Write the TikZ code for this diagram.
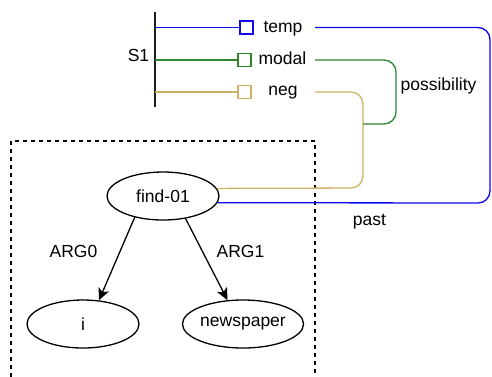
\documentclass[tikz,border=0pt]{standalone}
\usepackage{fontspec}
\setmainfont{Liberation Sans}
\usetikzlibrary{shapes.geometric,arrows.meta}
\definecolor{lblue}{RGB}{10,10,235}
\definecolor{lgreen}{RGB}{45,135,45}
\definecolor{ltan}{RGB}{205,178,100}
\definecolor{lbar}{RGB}{30,30,30}
\tikzset{
  lbl/.style={font=\fontsize{17.5}{20}\selectfont, inner sep=0pt, text=black, anchor=base},
  concept/.style={ellipse, draw, line width=1.3pt, minimum width=112pt, minimum height=48pt, inner sep=0pt, font=\fontsize{17.5}{20}\selectfont},
  sq/.style={rectangle, draw, fill=white, line width=1.8pt, minimum size=13pt, inner sep=0pt},
  conn/.style={line width=1.3pt, rounded corners=12pt},
  argarrow/.style={line width=1.3pt, -{Stealth[length=12pt,width=11pt,inset=3pt]}},
}
\begin{document}
\begin{tikzpicture}[x=1pt,y=-1pt]
\clip (0,0) rectangle (492,376);
\fill[white] (0,0) rectangle (492,376);

% dashed frame
\draw[line width=1.3pt, dash pattern=on 4pt off 4pt] (11,385) -- (11,141) -- (315,141) -- (315,385);

% bar
\coordinate (bartop) at (155,12);
\coordinate (barbot) at (155,107);
\draw[lbar, line width=2.6pt] (bartop) -- (barbot);
\node[lbl] (s1) at (138.5,61) {S1};

\coordinate (bt) at (155,27.5);
\coordinate (bm) at (155,60);
\coordinate (bn) at (155,92);

\node[sq, draw=lblue] (tempbox) at (246.5,27.5) {};
\node[sq, draw=lgreen] (modalbox) at (244.5,60) {};
\node[sq, draw=ltan] (negbox) at (244.5,92) {};

\draw[lblue, line width=1.3pt] (bt) -- (tempbox.west);
\draw[lgreen, line width=1.3pt] (bm) -- (modalbox.west);
\draw[ltan, line width=1.3pt] (bn) -- (negbox.west);

\node[lbl] (temp) at (283,32.5) {temp};
\node[lbl] (modal) at (282.5,64.5) {modal};
\node[lbl] (neg) at (283,95.5) {neg};

\coordinate (tempout) at (315,27.5);
\coordinate (modalout) at (315,60);
\coordinate (negout) at (315,92);

% concepts
\node[concept] (find) at (163,196) {find-01};
\node[concept] (i) at (83,324) {i};
\node[concept] (news) at (243,324) {newspaper};

\draw[argarrow] (find.217.9) -- (i.56.3);
\draw[argarrow] (find.-45) -- (news.123.7);
\node[lbl] (arg0) at (73.5,257) {ARG0};
\node[lbl] (arg1) at (240.5,257) {ARG1};

% connectors
\coordinate (b1) at (490,27.5);
\coordinate (b2) at (490,203);
\draw[conn, lblue] (tempout) -- (b1) -- (b2) -- (find.-7.4);

\coordinate (t1) at (363,92);
\coordinate (t2) at (363,188);
\draw[conn, ltan] (negout) -- (t1) -- (t2) -- (find.8.6);

\coordinate (g1) at (396,60);
\coordinate (g2) at (396,124);
\coordinate (g3) at (363,124);
\draw[conn, lgreen] (modalout) -- (g1) -- (g2) -- (g3);

\node[lbl] (poss) at (438.5,90) {possibility};
\node[lbl] (past) at (369.5,225) {past};
\end{tikzpicture}
\end{document}
